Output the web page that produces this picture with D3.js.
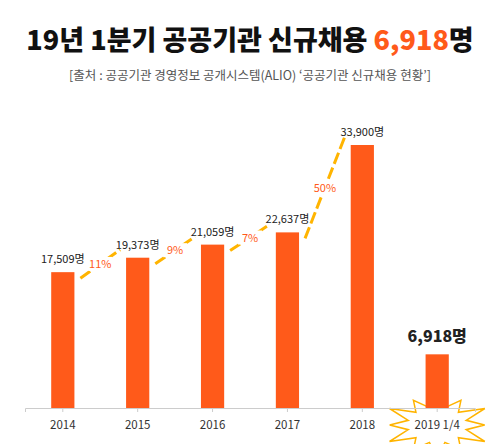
<!DOCTYPE html>
<html><head><meta charset="utf-8">
<script src="https://cdn.jsdelivr.net/npm/d3@7"></script>
<style>body{margin:0;background:#fff}text{font-family:"Noto Sans CJK KR","Noto Sans",sans-serif}</style>
</head><body>
<script>
const years = ['2014', '2015', '2016', '2017', '2018', '2019 1/4'];
const hires = [17509, 19373, 21059, 22637, 33900, 6918];
const growth = ['11%', '9%', '7%', '50%'];

const w = 500, h = 444, base = 408;
const orange = '#ff5a1a';
const svg = d3.select('body').append('svg').attr('width', w).attr('height', h);

const x = d3.scaleBand().domain(years).range([25, 475]).paddingInner(0.69).paddingOuter(0.35);
const y = d3.scaleLinear().domain([0, 33900]).range([base, 145]);

// title
const t = svg.append('text').attr('x', w / 2).attr('y', 50).attr('text-anchor', 'middle')
    .attr('font-size', 27).attr('font-weight', 900).attr('fill', '#111');
t.append('tspan').text('19년 1분기 공공기관 신규채용 ');
t.append('tspan').attr('fill', orange).text('6,918');
t.append('tspan').text('명');
svg.append('text').attr('x', w / 2).attr('y', 80).attr('text-anchor', 'middle')
    .attr('font-size', 12.5).attr('fill', '#555')
    .text('[출처 : 공공기관 경영정보 공개시스템(ALIO) ‘공공기관 신규채용 현황’]');

// axis
const axis = svg.append('g').attr('transform', `translate(0,${base})`)
    .call(d3.axisBottom(x).tickSize(4).tickPadding(9));
axis.select('.domain').attr('stroke', '#ccc');
axis.selectAll('.tick line').attr('stroke', '#ccc');
axis.selectAll('.tick text').attr('font-size', 11.5).attr('fill', '#333');

// starburst behind last label
const cx = x(years[5]) + x.bandwidth() / 2, cy = base + 17;
const pts = d3.range(24).map(i => {
    const a = i / 24 * 2 * Math.PI, r = i % 2 ? 24 : (i % 4 ? 44 : 38);
    return [cx + Math.cos(a) * r * 1.25, cy + Math.sin(a) * r * 0.75];
});
svg.insert('path', 'g').attr('d', d3.line()(pts) + 'Z')
    .attr('fill', '#fff').attr('stroke', '#ffb400').attr('stroke-width', 1.5);
axis.raise();

// bars
svg.selectAll('rect.bar').data(hires).join('rect').attr('class', 'bar')
    .attr('x', (d, i) => x(years[i])).attr('width', x.bandwidth())
    .attr('y', d => y(d)).attr('height', d => base - y(d)).attr('fill', orange);

svg.selectAll('text.val').data(hires).join('text').attr('class', 'val')
    .attr('x', (d, i) => x(years[i]) + x.bandwidth() / 2)
    .attr('y', (d, i) => y(d) - (i === 5 ? 12 : 9))
    .attr('text-anchor', 'middle')
    .attr('font-size', (d, i) => i === 5 ? 16 : 11)
    .attr('font-weight', (d, i) => i === 5 ? 900 : 400)
    .attr('fill', '#222')
    .text(d => d3.format(',')(d) + '명');

// growth lines
growth.forEach((g, i) => {
    const x0 = x(years[i]) + x.bandwidth() + 6, y0 = y(hires[i]) + 6;
    const x1 = x(years[i + 1]) - 6, y1 = y(hires[i + 1]) - 8;
    svg.append('line').attr('x1', x0).attr('y1', y0).attr('x2', x1).attr('y2', y1)
        .attr('stroke', '#ffb400').attr('stroke-width', 3).attr('stroke-dasharray', '12,4');
    const mx = (x0 + x1) / 2, my = (y0 + y1) / 2;
    svg.append('rect').attr('x', mx - 12).attr('y', my - 7).attr('width', 24).attr('height', 14).attr('fill', '#fff');
    svg.append('text').attr('x', mx).attr('y', my + 4).attr('text-anchor', 'middle')
        .attr('font-size', 11).attr('fill', orange).text(g);
});
</script>
</body></html>
